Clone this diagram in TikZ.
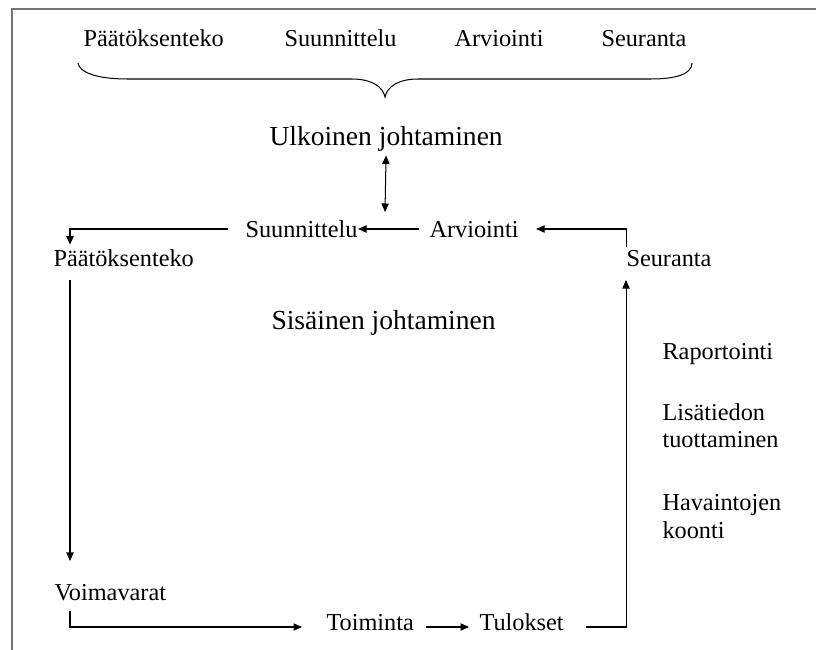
\documentclass[tikz,border=0pt]{standalone}
\usepackage{fontspec}
\setmainfont{Liberation Serif}
\usetikzlibrary{arrows.meta}
\usetikzlibrary{calc}

\begin{document}
\begin{tikzpicture}[x=0.494pt,y=-0.494pt,>={Triangle[length=4.2pt,width=3.6pt]},line width=0.5pt]
	\tikzset{
		T/.style={inner sep=0pt,anchor=base west,align=left,font=\fontsize{12}{13.8}\selectfont},
		H/.style={T,font=\fontsize{13.6}{16}\selectfont},
	}
	\useasboundingbox (0,0) rectangle (816,650);
	\draw[black!55,line width=1pt] (12,650) |- (816,9);
	
	% ulkoinen taso
	\node[T] (tpaa) at (83,47) {Päätöksenteko};
	\node[T] (tsuu) at (284,47) {Suunnittelu};
	\node[T] (tarv) at (454,47) {Arviointi};
	\node[T] (tseu) at (601,47) {Seuranta};
	\draw (78,63) .. controls (79,72) and (96,79) .. (127,79) -- (352,79)
		.. controls (372,79) and (383,87) .. (385,97)
		.. controls (387,87) and (398,79) .. (418,79) -- (651,79)
		.. controls (676,79) and (692,74) .. (692,63);
	\node[H] (ulk) at (269,146) {Ulkoinen johtaminen};
	\coordinate (ulk2) at (385,212);
	
	% sisainen kierto
	\node[T] (msuu) at (245,238) {Suunnittelu};
	\node[T] (marv) at (429,238) {Arviointi};
	\node[T] (lpaa) at (53,267) {Päätöksenteko};
	\node[T] (rseu) at (626,267) {Seuranta};
	\node[H] (sis) at (271,330) {Sisäinen johtaminen};
	\node[T] (rap) at (662,360) {Raportointi};
	\node[T] (lis) at (662,448) {Lisätiedon\\ tuottaminen};
	\node[T] (hav) at (662,538) {Havaintojen\\ koonti};
	\node[T] (voi) at (54,600) {Voimavarat};
	\node[T] (toi) at (326,630) {Toiminta};
	\node[T] (tul) at (479,630) {Tulokset};
	
	\draw[<->,shorten <=1.5pt] (ulk.south) -- (ulk2);
	\draw[->] ($(marv.base west)+(-10,-9)$) -- ($(msuu.base east)+(0,-9)$);
	\draw[->] ($(msuu.base west)+(-17,-9)$) -| ($(lpaa.north west)+(17,-5)$);
	\draw[->] ($(rseu.base west)+(0,-20)$) |- ($(marv.base east)+(17,-9)$);
	\draw[->] ($(lpaa.base west)+(17,13)$) -- ($(voi.base west)+(16,-39)$);
	\draw[->] ($(voi.base west)+(16,11)$) |- ($(toi.base west)+(-24,-3)$);
	\draw[->] ($(toi.base east)+(12,-3)$) -- ($(tul.base west)+(-10,-3)$);
	\draw[->] ($(tul.base east)+(22,-3)$) -| ($(rseu.base west)+(0,13)$);
\end{tikzpicture}
\end{document}
